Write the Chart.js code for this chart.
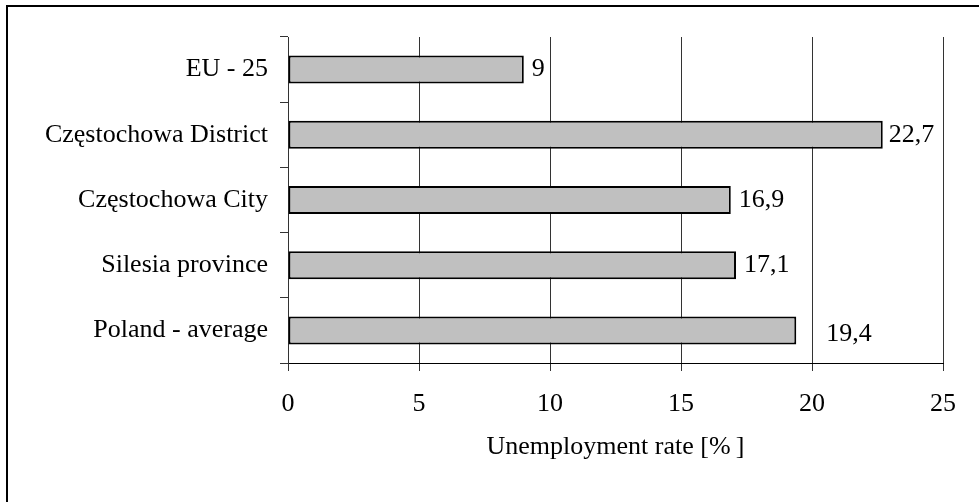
<!DOCTYPE html>
<html>
<head>
<meta charset="utf-8">
<script src="https://cdn.jsdelivr.net/npm/chart.js@4/dist/chart.umd.min.js"></script>
<style>
  body { margin: 0; background: #fff; }
  #wrap { position: relative; width: 979px; height: 502px; overflow: hidden; }
  #frame { position: absolute; left: 6px; top: 5px; width: 1000px; height: 600px;
           border-left: 2px solid #000; border-top: 2px solid #000; pointer-events: none; }
  canvas { position: absolute; left: 0; top: 0; }
</style>
</head>
<body>
<div id="wrap">
  <canvas id="myChart" width="979" height="502"></canvas>
  <div id="frame"></div>
</div>
<script>
var categories = ["EU - 25", "Częstochowa District", "Częstochowa City", "Silesia province", "Poland - average"];
var rates = [9, 22.7, 16.9, 17.1, 19.4];
var xTicks = [0, 5, 10, 15, 20, 25];

var serif = "'Liberation Serif', 'Times New Roman', serif";

// value labels to the right of each bar, decimal comma
var valueLabels = {
  id: 'valueLabels',
  afterDatasetsDraw: function(chart, args, opts) {
    var ctx = chart.ctx;
    var meta = chart.getDatasetMeta(0);
    ctx.save();
    ctx.font = "26px " + serif;
    ctx.fillStyle = "#000";
    ctx.textAlign = "left";
    ctx.textBaseline = "middle";
    meta.data.forEach(function(bar, i) {
      var pad = opts.pad[i];
      var txt = String(rates[i]).replace('.', ',');
      ctx.fillText(txt, bar.x + pad, bar.y + (opts.dy[i] || 0));
    });
    ctx.restore();
  }
};

var ctx = document.getElementById("myChart");
new Chart(ctx, {
  type: 'bar',
  data: {
    labels: categories,
    datasets: [{
      data: rates,
      backgroundColor: "#c0c0c0",
      borderColor: "#000",
      borderWidth: 2,
      borderSkipped: false,
      barPercentage: 0.43,
      categoryPercentage: 1
    }]
  },
  options: {
    indexAxis: 'y',
    responsive: false,
    animation: false,
    layout: { padding: { left: 0, top: 37, right: 36, bottom: 0 } },
    plugins: {
      legend: { display: false },
      tooltip: { enabled: false },
      valueLabels: { pad: [8, 6, 8, 8, 30], dy: [0, 0, 0, 0, 4] }
    },
    scales: {
      x: {
        min: 0,
        max: 25,
        afterBuildTicks: function(scale) {
          scale.ticks = xTicks.map(function(v) { return { value: v }; });
        },
        afterFit: function(scale) { scale.height = 139; },
        grid: { color: "#333", lineWidth: 1, tickLength: 8, tickColor: "#333" },
        border: { color: "#000", width: 1 },
        ticks: { color: "#000", font: { family: serif, size: 26 }, padding: 18 },
        title: {
          display: true,
          text: "Unemployment rate [%\u2009]",
          color: "#000",
          font: { family: serif, size: 26 },
          padding: { top: 0, bottom: 39 }
        }
      },
      y: {
        afterFit: function(scale) { scale.width = 288; },
        grid: { drawOnChartArea: false, tickLength: 8, color: "#333", offset: true },
        border: { color: "#333", width: 1 },
        ticks: { color: "#000", font: { family: serif, size: 26 }, padding: 12 }
      }
    }
  },
  plugins: [valueLabels]
});
</script>
</body>
</html>
